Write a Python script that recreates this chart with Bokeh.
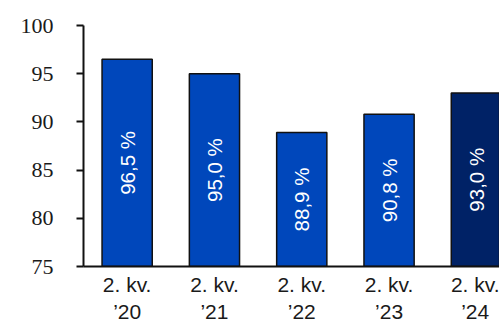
import math
from bokeh.plotting import figure
from bokeh.models import ColumnDataSource, FixedTicker, Range1d
from bokeh.core.properties import value
from bokeh.embed import file_html
from bokeh.resources import INLINE

categories = ["2. kv.\n\u201920", "2. kv.\n\u201921", "2. kv.\n\u201922", "2. kv.\n\u201923", "2. kv.\n\u201924"]
values = [96.5, 95.0, 88.9, 90.8, 93.0]
colors = ["#0047BB", "#0047BB", "#0047BB", "#0047BB", "#002266"]
y_ticks = [75, 80, 85, 90, 95, 100]
baseline = 75

xs = list(range(len(categories)))
labels = [f"{v:.1f}".replace(".", ",") + " %" for v in values]
mids = [(baseline + v) / 2 for v in values]

src = ColumnDataSource(dict(x=xs, top=values, color=colors, label=labels, mid=mids))

p = figure(width=499, height=327, output_backend="svg", toolbar_location=None,
           x_range=Range1d(-0.5, 4.265), y_range=Range1d(75, 100),
           min_border_left=83, min_border_right=0, min_border_top=25, min_border_bottom=61)

p.vbar(x="x", top="top", bottom=baseline, width=0.575, fill_color="color",
       line_color="#111111", line_width=1.5, source=src)
p.text(x="x", y="mid", text="label", angle=math.pi / 2, text_align="center",
       text_baseline="middle", text_color="white", text_font=value("Liberation Sans"),
       text_font_size="20.5px", source=src)

p.outline_line_color = None
p.xgrid.grid_line_color = None
p.ygrid.grid_line_color = None

p.yaxis.ticker = FixedTicker(ticks=y_ticks)
p.yaxis.major_tick_out = 7
p.yaxis.major_tick_in = 0
p.yaxis.minor_tick_line_color = None
p.yaxis.axis_line_width = 2
p.yaxis.major_tick_line_width = 2
p.yaxis.axis_line_color = "#111111"
p.yaxis.major_tick_line_color = "#111111"
p.yaxis.major_label_text_font = "Liberation Serif"
p.yaxis.major_label_text_font_size = "22px"
p.yaxis.major_label_text_color = "#1a1a1a"
p.yaxis.major_label_standoff = 23

p.xaxis.ticker = FixedTicker(ticks=xs)
p.xaxis.major_label_overrides = {i: c for i, c in zip(xs, categories)}
p.xaxis.major_tick_line_color = None
p.xaxis.minor_tick_line_color = None
p.xaxis.axis_line_width = 2
p.xaxis.axis_line_color = "#111111"
p.xaxis.major_label_text_font = "Liberation Sans"
p.xaxis.major_label_text_font_size = "21px"
p.xaxis.major_label_text_line_height = 1.2
p.xaxis.major_label_text_color = "#1a1a1a"
p.xaxis.major_label_standoff = 0

open("out.html", "w").write(file_html(p, INLINE))
